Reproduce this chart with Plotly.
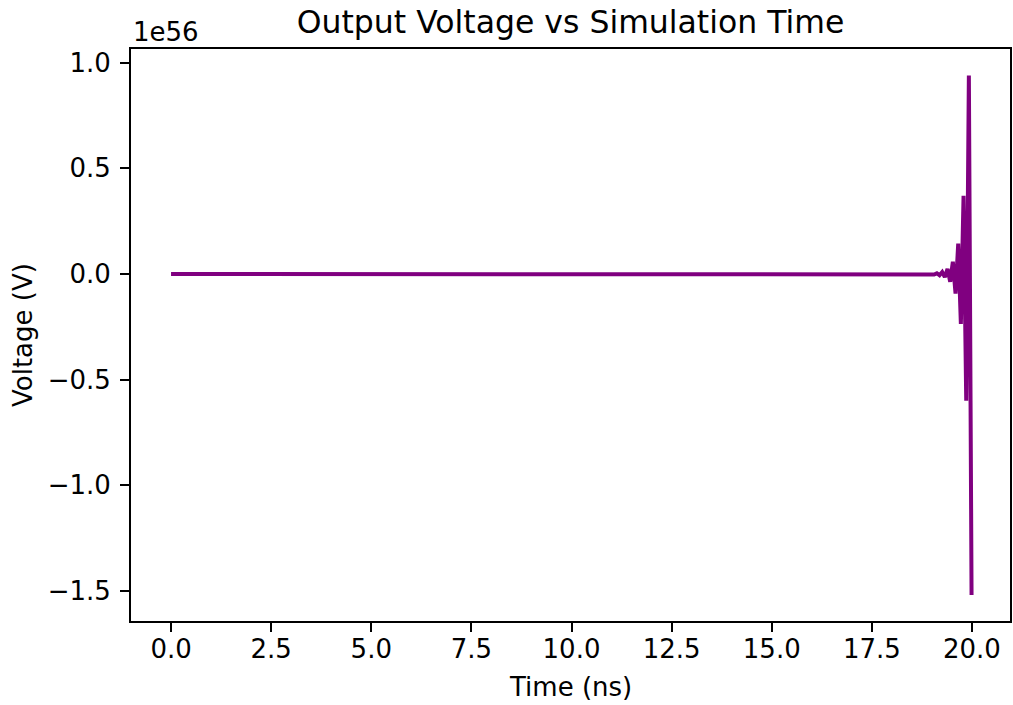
import plotly.graph_objects as go

# Data (voltage in units of 1e56 V)
time_ns = [0.0, 18.923, 18.990, 19.057, 19.123, 19.190, 19.257, 19.323, 19.390,
           19.457, 19.523, 19.590, 19.657, 19.723, 19.790, 19.857, 19.923, 19.990]
voltage_1e56 = [0.0, 0.0, 0.0014, -0.0023, 0.0036, -0.0058, 0.0093, -0.015, 0.024,
                -0.037, 0.058, -0.093, 0.144, -0.237, 0.37, -0.60, 0.94, -1.52]

x_ticks = [0.0, 2.5, 5.0, 7.5, 10.0, 12.5, 15.0, 17.5, 20.0]
y_ticks = [-1.5, -1.0, -0.5, 0.0, 0.5, 1.0]

FONT = "DejaVu Sans"
FS = 26

fig = go.Figure()
fig.add_trace(go.Scatter(
    x=time_ns, y=voltage_1e56, mode="lines",
    line=dict(color="#800080", width=4),
    showlegend=False, hoverinfo="skip",
))

axis_common = dict(
    showgrid=False, zeroline=False, automargin=False,
    showline=True, mirror=True, linecolor="black", linewidth=2,
    ticks="outside", ticklen=9, tickwidth=2, tickcolor="black",
    tickfont=dict(family=FONT, size=FS, color="black"),
    tickformat=".1f",
)

fig.update_layout(
    template="none",
    width=1013, height=705,
    margin=dict(l=131, r=3, t=49, b=84, pad=0),
    paper_bgcolor="white", plot_bgcolor="white",
    font=dict(family=FONT, size=FS, color="black"),
    title=dict(text="Output Voltage vs Simulation Time",
               font=dict(family=FONT, size=31.5, color="black"),
               x=(131 + 1010) / 2 / 1013, xanchor="center",
               y=1 - 22 / 705, yanchor="middle"),
    xaxis=dict(**axis_common, range=[-1.0, 20.95], tickvals=x_ticks, ticklabelstandoff=-5),
    yaxis=dict(**axis_common, range=[-1.643, 1.065], tickvals=y_ticks, ticklabelstandoff=4),
    annotations=[
        dict(text="1e56", xref="paper", yref="paper", x=0, y=1,
             xanchor="left", yanchor="bottom", showarrow=False, yshift=0,
             font=dict(family=FONT, size=FS, color="black")),
        dict(text="Time (ns)", xref="paper", yref="paper", x=0.5, y=0,
             xanchor="center", yanchor="middle", showarrow=False, yshift=-66,
             font=dict(family=FONT, size=FS, color="black")),
        dict(text="Voltage (V)", xref="paper", yref="paper", x=0, y=0.5,
             xanchor="center", yanchor="middle", showarrow=False, xshift=-108,
             textangle=-90,
             font=dict(family=FONT, size=FS, color="black")),
    ],
)

post = ("document.body.style.margin='0';document.body.style.padding='0';"
        "document.body.style.overflow='hidden';"
        "Plotly.relayout('{plot_id}', {width: 1013, height: 705});")

fig.write_html("out.html", post_script=post,
               config={"responsive": False, "displayModeBar": False})
